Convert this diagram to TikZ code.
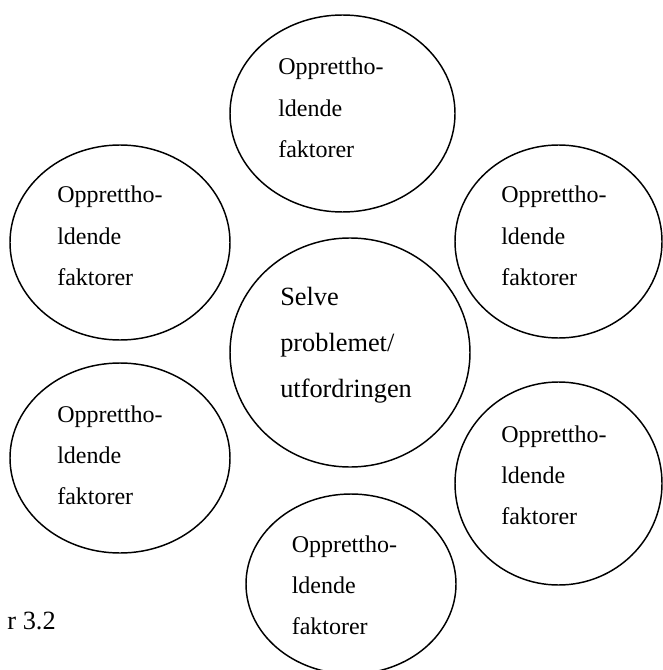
\documentclass[tikz,border=0pt]{standalone}
\usepackage{fontspec}
\setmainfont{Liberation Serif}
\usetikzlibrary{shapes.geometric}
\tikzset{
  circ/.style={ellipse, draw=black, line width=1.1pt, inner sep=0pt},
  small/.style={anchor=base west, inner sep=0pt, align=left, text width=120pt,
    font=\fontsize{18}{31}\selectfont},
  large/.style={anchor=base west, inner sep=0pt, align=left, text width=140pt,
    font=\fontsize{19.75}{34.5}\selectfont},
}
\newcommand{\optxt}{Opprettho-\\ldende\\faktorer}
\begin{document}
\begin{tikzpicture}[x=0.75pt,y=-0.75pt]
\useasboundingbox (0,0) rectangle (662,670);
% ellipses
\node[circ, minimum width=168.75pt, minimum height=147.75pt] (top) at (342.5,113.5) {};
\node[circ, minimum width=155.25pt, minimum height=144.75pt] (ru) at (558.5,241.5) {};
\node[circ, minimum width=180pt, minimum height=171.75pt] (mid) at (350,352.5) {};
\node[circ, minimum width=165pt, minimum height=146.25pt] (lu) at (120,242.5) {};
\node[circ, minimum width=165pt, minimum height=142.5pt] (ll) at (120,458) {};
\node[circ, minimum width=155.25pt, minimum height=152.25pt] (rl) at (558.5,483.5) {};
\node[circ, minimum width=157.5pt, minimum height=135pt] (bot) at (351,584) {};
% texts
\node[small] (ttop) at (278,75) {\optxt};
\node[small] (tru) at (501,203) {\optxt};
\node[small] (tlu) at (57,203) {\optxt};
\node[small] (tll) at (57,422) {\optxt};
\node[small] (trl) at (501,442) {\optxt};
\node[small] (tbot) at (291.5,552) {\optxt};
\node[large] (tmid) at (280,305) {Selve\\problemet/\\utfordringen};
\node[anchor=base east, inner sep=0pt, font=\fontsize{19.75}{24}\selectfont] (fig) at (56,629.3) {r 3.2};
\end{tikzpicture}
\end{document}
